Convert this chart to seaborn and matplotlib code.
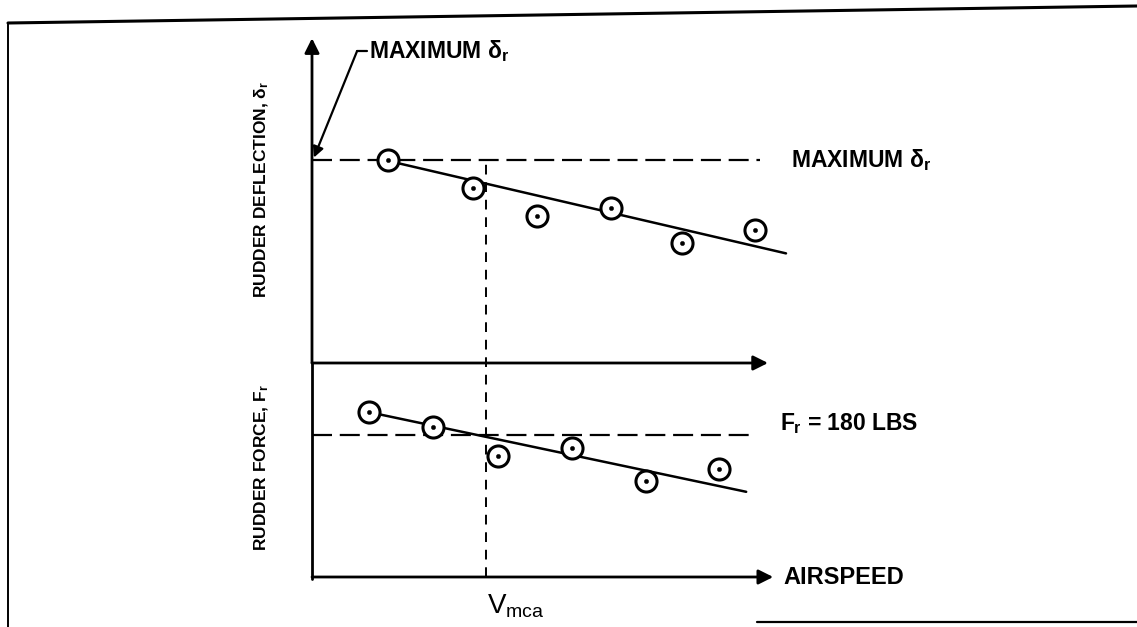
import numpy as np
import pandas as pd
import matplotlib
matplotlib.use('Agg')
import matplotlib.pyplot as plt
from matplotlib.lines import Line2D
import seaborn as sns

sns.set_theme(style='white')
plt.rcParams['font.family'] = ['Liberation Sans', 'DejaVu Sans']
plt.rcParams['text.color'] = 'black'
plt.rcParams['mathtext.fontset'] = 'custom'
plt.rcParams['mathtext.rm'] = 'Liberation Sans:bold'
plt.rcParams['mathtext.it'] = 'Liberation Sans:bold'
plt.rcParams['mathtext.bf'] = 'Liberation Sans:bold'

# rudder deflection data (arbitrary airspeed units, deg)
airspeed_defl = [1.6, 3.4, 4.75, 6.3, 7.8, 9.35]
deflection = [25.0, 21.5, 18.1, 19.1, 14.8, 16.4]
defl_fit_x = [1.6, 10.0]
defl_fit_y = [24.9, 13.5]
max_deflection = 25.0

# rudder force data (lbs)
airspeed_force = [1.2, 2.55, 3.92, 5.49, 7.05, 8.59]
force = [209, 190, 153, 164, 122, 137]
force_fit_x = [1.2, 9.16]
force_fit_y = [209, 108]
force_limit = 180

vmca = 3.67

defl_df = pd.DataFrame({'airspeed': airspeed_defl, 'deflection': deflection})
force_df = pd.DataFrame({'airspeed': airspeed_force, 'force': force})

W, H = 1137, 627
fig = plt.figure(figsize=(W / 100, H / 100), dpi=100)
fig.patch.set_facecolor('white')

px_x = 47.4      # px per airspeed unit
px_d = 8.12      # px per deg
px_f = 142 / 180 # px per lb
x0 = 312

ax1 = fig.add_axes([x0 / W, (H - 363) / H, (W - x0) / W, 363 / H])
ax2 = fig.add_axes([x0 / W, 0, (W - x0) / W, (H - 363) / H])
for ax in (ax1, ax2):
    ax.axis('off')
    ax.set_facecolor('none')
ax1.set_xlim(0, (W - x0) / px_x)
ax1.set_ylim(0, 363 / px_d)
ax2.set_xlim(0, (W - x0) / px_x)
ax2.set_ylim(-(H - 577) / px_f, (577 - 363) / px_f)

arrow_kw = dict(arrowstyle='-|>', color='black', lw=2, mutation_scale=22,
                shrinkA=0, shrinkB=0)

# axes
ax1.annotate('', xy=(0, 40), xytext=(0, 0), arrowprops=arrow_kw, annotation_clip=False)
ax1.annotate('', xy=(9.62, 0), xytext=(0, 0), arrowprops=arrow_kw, annotation_clip=False)
ax2.plot([0, 0], [-3, 271.2], color='black', lw=2, clip_on=False)
ax2.annotate('', xy=(9.73, 0), xytext=(0, 0), arrowprops=arrow_kw, annotation_clip=False)

# top panel
ax1.plot([0, 9.45], [max_deflection, max_deflection], color='black', lw=1.6,
         dashes=(9, 3.5))
sns.lineplot(x=defl_fit_x, y=defl_fit_y, ax=ax1, color='black', lw=1.8)
sns.scatterplot(data=defl_df, x='airspeed', y='deflection', ax=ax1, s=230,
                marker='o', facecolor='white', edgecolor='black', linewidth=2.2,
                zorder=5)
sns.scatterplot(data=defl_df, x='airspeed', y='deflection', ax=ax1, s=10,
                color='black', edgecolor='black', zorder=6)

# bottom panel
ax2.plot([0, 9.3], [force_limit, force_limit], color='black', lw=1.6,
         dashes=(9, 3.5))
ax2.plot([vmca, vmca], [0, (577 - 160) / px_f], color='black', lw=1.4,
         dashes=(5, 4), clip_on=False)
sns.lineplot(x=force_fit_x, y=force_fit_y, ax=ax2, color='black', lw=1.8)
sns.scatterplot(data=force_df, x='airspeed', y='force', ax=ax2, s=230,
                marker='o', facecolor='white', edgecolor='black', linewidth=2.2,
                zorder=5)
sns.scatterplot(data=force_df, x='airspeed', y='force', ax=ax2, s=10,
                color='black', edgecolor='black', zorder=6)

# annotations
ax1.annotate('', xy=(0.04, 25.3), xytext=(0.95, 38.4),
             arrowprops=dict(arrowstyle='-|>', color='black', lw=1.6,
                             mutation_scale=16, shrinkA=0, shrinkB=0),
             annotation_clip=False)
ax1.plot([0.95, 1.17], [38.4, 38.4], color='black', lw=1.6, clip_on=False)
ax1.text(1.2, 38.4, r'MAXIMUM $\delta_r$', fontsize=16.5, fontweight='bold',
         ha='left', va='center')
ax1.text(10.1, 25.0, r'MAXIMUM $\delta_r$', fontsize=16.5, fontweight='bold',
         ha='left', va='center')
ax2.text(9.87, 194, r'$F_r$ = 180 LBS', fontsize=16.5, fontweight='bold',
         ha='left', va='center')
ax2.text(9.95, 0, 'AIRSPEED', fontsize=17, fontweight='bold',
         ha='left', va='center')
ax2.text(3.7, -37, r'V$_{\mathregular{mca}}$', fontsize=20,
         ha='left', va='center')

fig.text(262 / W, 1 - 190 / H, r'RUDDER DEFLECTION, $\delta_r$', rotation=90,
         fontsize=12.5, fontweight='bold', ha='center', va='center')
fig.text(262 / W, 1 - 468 / H, r'RUDDER FORCE, $F_r$', rotation=90,
         fontsize=12.5, fontweight='bold', ha='center', va='center')

# scanned page frame
fig.add_artist(Line2D([8 / W, 1], [1 - 23 / H, 1 - 6 / H], color='black', lw=2.2,
                      transform=fig.transFigure))
fig.add_artist(Line2D([8 / W, 8 / W], [1 - 23 / H, 0], color='black', lw=1.4,
                      transform=fig.transFigure))
fig.add_artist(Line2D([757 / W, 1], [1 - 622 / H, 1 - 622 / H], color='black',
                      lw=1.6, transform=fig.transFigure))

fig.savefig('out.png', dpi=100, facecolor='white')
